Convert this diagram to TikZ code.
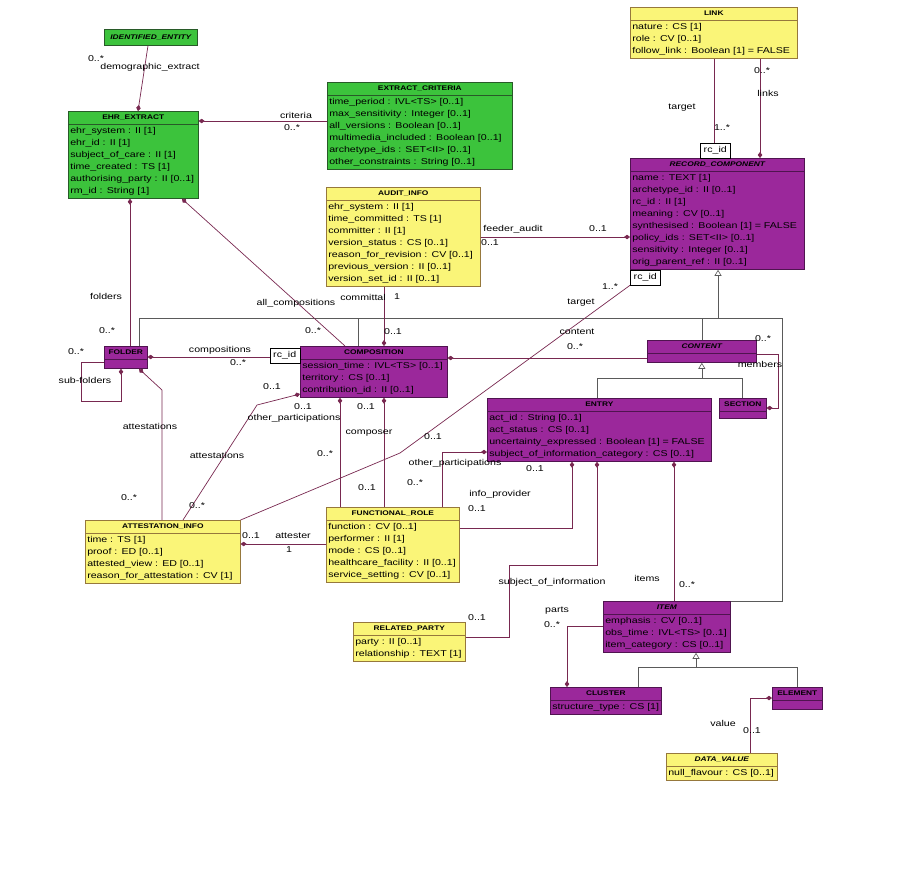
\documentclass[tikz,border=0pt]{standalone}
\usepackage{fontspec}
\setmainfont{Liberation Sans}[FakeStretch=1.25]
\usepackage{tikz}
\usetikzlibrary{arrows.meta,shapes.multipart,positioning}
\definecolor{ehrgreen}{RGB}{60,195,60}
\definecolor{ehrgreenline}{RGB}{40,90,40}
\definecolor{ehryellow}{RGB}{250,245,120}
\definecolor{ehryellowline}{RGB}{150,120,60}
\definecolor{ehrpurple}{RGB}{155,40,155}
\definecolor{ehrpurpleline}{RGB}{80,20,80}
\definecolor{assoccol}{RGB}{120,40,80}
\definecolor{gencol}{RGB}{90,90,90}
\setlength{\parindent}{0pt}
\newcommand{\attrfont}{\fontsize{8.5}{12}\selectfont}
\newcommand{\titlefont}{\fontsize{6.7}{10}\selectfont\bfseries}
\newcommand{\ctitle}[1]{\noindent\makebox[\hsize][c]{\titlefont\strut#1}}
\newcommand{\ititle}[1]{\noindent\makebox[\hsize][c]{\titlefont\itshape\strut#1}}

\begin{document}
\begin{tikzpicture}[x=1pt,y=-1pt,
    cls/.style={rectangle split,rectangle split parts=2,anchor=north west,line width=0.6pt,
                inner xsep=2pt,inner ysep=1pt,font=\attrfont,align=left},
    grn/.style={cls,fill=ehrgreen,draw=ehrgreenline,text width=#1},
    ylw/.style={cls,fill=ehryellow,draw=ehryellowline,text width=#1},
    mag/.style={cls,fill=ehrpurple,draw=ehrpurpleline,text width=#1},
    qual/.style={rectangle,draw=black,fill=white,line width=0.5pt,font=\attrfont,
                 inner xsep=2pt,inner ysep=0pt,minimum width=30pt,minimum height=15pt},
    lbl/.style={font=\attrfont,inner sep=0pt},
    assoc/.style={draw=assoccol,line width=0.7pt},
    gen/.style={draw=gencol,line width=0.6pt},
    dia/.tip={Diamond[length=6pt,width=4.5pt]},
    gtri/.tip={Triangle[open,length=6pt,width=7pt,fill=white]}
  ]
  \useasboundingbox (0,0) rectangle (901,892);

  % classes
  \node[rectangle,anchor=north west,fill=ehrgreen,draw=ehrgreenline,line width=0.6pt,
        minimum width=93pt,minimum height=16pt,inner sep=1pt] (ident) at (104,29)
        {\titlefont\itshape IDENTIFIED\_ENTITY};
  \node[grn=126pt] (ehr) at (68,111) {\ctitle{EHR\_EXTRACT}\nodepart{two}\strut ehr\_system : II [1]\\ehr\_id : II [1]\\subject\_of\_care : II [1]\\time\_created : TS [1]\\authorising\_party : II [0..1]\\rm\_id : String [1]\strut};
  \node[grn=181pt] (crit) at (327,82) {\ctitle{EXTRACT\_CRITERIA}\nodepart{two}\strut time\_period : IVL<TS> [0..1]\\max\_sensitivity : Integer [0..1]\\all\_versions : Boolean [0..1]\\multimedia\_included : Boolean [0..1]\\archetype\_ids : SET<II> [0..1]\\other\_constraints : String [0..1]\strut};
  \node[ylw=150pt] (audit) at (326,187) {\ctitle{AUDIT\_INFO}\nodepart{two}\strut ehr\_system : II [1]\\time\_committed : TS [1]\\committer : II [1]\\version\_status : CS [0..1]\\reason\_for\_revision : CV [0..1]\\previous\_version : II [0..1]\\version\_set\_id : II [0..1]\strut};
  \node[ylw=163pt] (link) at (630,7) {\ctitle{LINK}\nodepart{two}\strut nature : CS [1]\\role : CV [0..1]\\follow\_link : Boolean [1] = FALSE\strut};
  \node[mag=170pt] (rc) at (630,158) {\ititle{RECORD\_COMPONENT}\nodepart{two}\strut name : TEXT [1]\\archetype\_id : II [0..1]\\rc\_id : II [1]\\meaning : CV [0..1]\\synthesised : Boolean [1] = FALSE\\policy\_ids : SET<II> [0..1]\\sensitivity : Integer [0..1]\\orig\_parent\_ref : II [0..1]\strut};
  \node[qual,anchor=south west] (rcq1) at ([xshift=70]rc.north west) {rc\_id};
  \node[qual,anchor=north west] (rcq2) at (rc.south west) {rc\_id};
  \node[mag=39pt] (folder) at (104,346) {\ctitle{FOLDER}\nodepart{two}\rule{0pt}{7pt}};
  \node[mag=143pt] (comp) at (300,346) {\ctitle{COMPOSITION}\nodepart{two}\strut session\_time : IVL<TS> [0..1]\\territory : CS [0..1]\\contribution\_id : II [0..1]\strut};
  \node[qual,anchor=north east] (compq) at ([yshift=-2]comp.north west) {rc\_id};
  \node[mag=105pt] (content) at (647,340) {\ititle{CONTENT}\nodepart{two}\rule{0pt}{7pt}};
  \node[mag=43pt] (section) at (719,398) {\ctitle{SECTION}\nodepart{two}\rule{0pt}{5pt}};
  \node[mag=220pt] (entry) at (487,398) {\ctitle{ENTRY}\nodepart{two}\strut act\_id : String [0..1]\\act\_status : CS [0..1]\\uncertainty\_expressed : Boolean [1] = FALSE\\subject\_of\_information\_category : CS [0..1]\strut};
  \node[ylw=151pt] (attest) at (85,520) {\ctitle{ATTESTATION\_INFO}\nodepart{two}\strut time : TS [1]\\proof : ED [0..1]\\attested\_view : ED [0..1]\\reason\_for\_attestation : CV [1]\strut};
  \node[ylw=129pt] (frole) at (326,507) {\ctitle{FUNCTIONAL\_ROLE}\nodepart{two}\strut function : CV [0..1]\\performer : II [1]\\mode : CS [0..1]\\healthcare\_facility : II [0..1]\\service\_setting : CV [0..1]\strut};
  \node[ylw=108pt] (rparty) at (353,622) {\ctitle{RELATED\_PARTY}\nodepart{two}\strut party : II [0..1]\\relationship : TEXT [1]\strut};
  \node[mag=123pt] (item) at (603,601) {\ititle{ITEM}\nodepart{two}\strut emphasis : CV [0..1]\\obs\_time : IVL<TS> [0..1]\\item\_category : CS [0..1]\strut};
  \node[mag=107pt] (cluster) at (550,687) {\ctitle{CLUSTER}\nodepart{two}\strut structure\_type : CS [1]\strut};
  \node[mag=46pt] (element) at (772,687) {\ctitle{ELEMENT}\nodepart{two}\rule{0pt}{7pt}};
  \node[ylw=107pt] (dval) at (666,753) {\ititle{DATA\_VALUE}\nodepart{two}\strut null\_flavour : CS [0..1]\strut};

  % helper points
  \coordinate (bus) at (0,318);
  \coordinate (busR) at (782,318);
  \coordinate (contBus) at (0,378);
  \coordinate (itemBus) at (0,667);
  \coordinate (memX) at (778,0);
  \coordinate (subX) at (81,401);
  \coordinate (faBend) at (162,390);
  \coordinate (caBend) at (257,405);
  \coordinate (soBend) at (509,565);
  \coordinate (tgBend) at (400,453);
  \coordinate (ehrR) at ([yshift=-10]ehr.north east);
  \coordinate (audR) at ([yshift=-50]audit.north east);
  \coordinate (compR) at ([yshift=-12]comp.north east);
  \coordinate (foldR) at ([yshift=-11]folder.north east);
  \coordinate (contR) at ([yshift=-14]content.north east);
  \coordinate (secR) at ([yshift=-10]section.north east);
  \coordinate (entL) at ([yshift=-54]entry.north west);
  \coordinate (attR) at ([yshift=-24]attest.north east);
  \coordinate (rcG) at ([xshift=88]rc.south west);
  \coordinate (foldG) at ([xshift=35]folder.north west);
  \coordinate (compG) at ([xshift=58]comp.north west);
  \coordinate (entG) at ([xshift=110]entry.north west);
  \coordinate (secG) at ([xshift=23]section.north west);
  \coordinate (itemG) at ([xshift=93]item.south west);
  \coordinate (clusG) at ([xshift=88]cluster.north west);
  \coordinate (elemG) at ([xshift=25]element.north west);

  % generalisations
  \draw[gen,gtri-] (rcG) -- (rcG |- bus);
  \draw[gen] (foldG) -- (foldG |- bus) -- (busR) -- (busR |- item.north east) -- (item.north east);
  \draw[gen] (compG) -- (compG |- bus);
  \draw[gen] (content.north) -- (content.north |- bus);
  \draw[gen,gtri-] (content.south) -- (content.south |- contBus);
  \draw[gen] (entG) -- (entG |- contBus) -- (secG |- contBus) -- (secG);
  \draw[gen,gtri-] (itemG) -- (itemG |- itemBus);
  \draw[gen] (clusG) -- (clusG |- itemBus) -- (elemG |- itemBus) -- (elemG);

  % associations
  \draw[assoc,-dia] ([xshift=44]ident.south west) -- ([xshift=70]ehr.north west);
  \draw[assoc,dia-] (ehrR) -- (ehrR -| crit.west);
  \draw[assoc,dia-] ([xshift=62]ehr.south west) -- ([xshift=26]folder.north west);
  \draw[assoc,dia-] ([xshift=114]ehr.south west) -- ([xshift=45]comp.north west);
  \draw[assoc,-dia] ([xshift=58]audit.south west) -- ([xshift=84]comp.north west);
  \draw[assoc,-dia] (audR) -- (audR -| rc.west);
  \draw[assoc] ([xshift=84]link.south west) -- ([xshift=14]rcq1.north west);
  \draw[assoc,-dia] ([xshift=130]link.south west) -- ([xshift=130]rc.north west);
  \draw[assoc,-dia] (contR) -- (contR -| memX) -- (secR -| memX) -- (secR);
  \draw[assoc,dia-] (compR) -- (compR -| content.west);
  \draw[assoc,dia-] (foldR) -- (foldR -| compq.west);
  \draw[assoc,-dia] ([yshift=-16]folder.north west) -| (subX) -| ([xshift=17]folder.south west);
  \draw[assoc,dia-] ([xshift=35]folder.south west) -- (faBend) -- (faBend |- attest.north);
  \draw[assoc,dia-] ([yshift=-48]comp.north west) -- (caBend) -- ([xshift=98]attest.north west);
  \draw[assoc,dia-] ([xshift=40]comp.south west) -- ([xshift=14]frole.north west);
  \draw[assoc,dia-] ([xshift=84]comp.south west) -- ([xshift=58]frole.north west);
  \draw[assoc,dia-] (entL) -| ([xshift=116]frole.north west);
  \draw[assoc,dia-] ([xshift=85]entry.south west) |- ([yshift=-21]frole.north east);
  \draw[assoc,dia-] ([xshift=110]entry.south west) |- (soBend) |- ([yshift=-15]rparty.north east);
  \draw[assoc,dia-] ([xshift=187]entry.south west) -- ([xshift=71]item.north west);
  \draw[assoc,-dia] ([yshift=-25]item.north west) -| ([xshift=17]cluster.north west);
  \draw[assoc,dia-] ([yshift=-11]element.north west) -| ([xshift=84]dval.north west);
  \draw[assoc,dia-] (attR) -- (attR -| frole.west);
  \draw[assoc] (attest.north east) -- (tgBend) -- (rcq2.south west);

  % role names and multiplicities
  \node[lbl] (ldemom) at (96,59) {0..*};
  \node[lbl] (ldemo) at (150,67) {demographic\_extract};
  \node[lbl] (lcrit) at (296,115) {criteria};
  \node[lbl] (lcritm) at (292,128) {0..*};
  \node[lbl] (lfold) at (106,296) {folders};
  \node[lbl] (lfoldm) at (107,331) {0..*};
  \node[lbl] (lallc) at (296,303) {all\_compositions};
  \node[lbl] (lallcm) at (313,331) {0..*};
  \node[lbl] (lcomm) at (363,297) {committal};
  \node[lbl] (lcommo) at (397,297) {1};
  \node[lbl] (lcommm) at (393,332) {0..1};
  \node[lbl] (lfeed) at (513,229) {feeder\_audit};
  \node[lbl] (lfeedm) at (490,243) {0..1};
  \node[lbl] (lfeedr) at (598,229) {0..1};
  \node[lbl] (lltgt) at (682,108) {target};
  \node[lbl] (lltgtm) at (722,128) {1..*};
  \node[lbl] (llinksm) at (762,71) {0..*};
  \node[lbl] (llinks) at (768,93) {links};
  \node[lbl] (lcomps) at (220,350) {compositions};
  \node[lbl] (lcompsm) at (238,363) {0..*};
  \node[lbl] (lsubm) at (76,352) {0..*};
  \node[lbl] (lsub) at (85,380) {sub-folders};
  \node[lbl] (lfatt) at (150,426) {attestations};
  \node[lbl] (lfattm) at (129,498) {0..*};
  \node[lbl] (lcatt) at (217,455) {attestations};
  \node[lbl] (lcattm) at (197,506) {0..*};
  \node[lbl] (lcattc) at (272,387) {0..1};
  \node[lbl] (lcopc) at (303,407) {0..1};
  \node[lbl] (lcop) at (294,418) {other\_participations};
  \node[lbl] (lcopm) at (325,454) {0..*};
  \node[lbl] (lcmpc) at (366,407) {0..1};
  \node[lbl] (lcmp) at (369,433) {composer};
  \node[lbl] (lcmpm) at (367,488) {0..1};
  \node[lbl] (leop) at (455,463) {other\_participations};
  \node[lbl] (leopm) at (415,483) {0..*};
  \node[lbl] (lentm) at (535,469) {0..1};
  \node[lbl] (linfo) at (500,494) {info\_provider};
  \node[lbl] (linfom) at (477,509) {0..1};
  \node[lbl] (lsubj) at (552,582) {subject\_of\_information};
  \node[lbl] (lsubjm) at (477,618) {0..1};
  \node[lbl] (litems) at (647,578) {items};
  \node[lbl] (litemsm) at (687,585) {0..*};
  \node[lbl] (lparts) at (557,611) {parts};
  \node[lbl] (lpartsm) at (552,625) {0..*};
  \node[lbl] (lval) at (723,723) {value};
  \node[lbl] (lvalm) at (752,731) {0..1};
  \node[lbl] (lcont) at (577,332) {content};
  \node[lbl] (lcontm) at (575,347) {0..*};
  \node[lbl] (lmemm) at (763,339) {0..*};
  \node[lbl] (lmem) at (760,364) {members};
  \node[lbl] (ltgt) at (581,303) {target};
  \node[lbl] (ltgtm) at (610,287) {1..*};
  \node[lbl] (ltgtc) at (433,437) {0..1};
  \node[lbl] (lattm) at (251,536) {0..1};
  \node[lbl] (latr) at (293,536) {attester};
  \node[lbl] (latro) at (289,550) {1};
\end{tikzpicture}
\end{document}
